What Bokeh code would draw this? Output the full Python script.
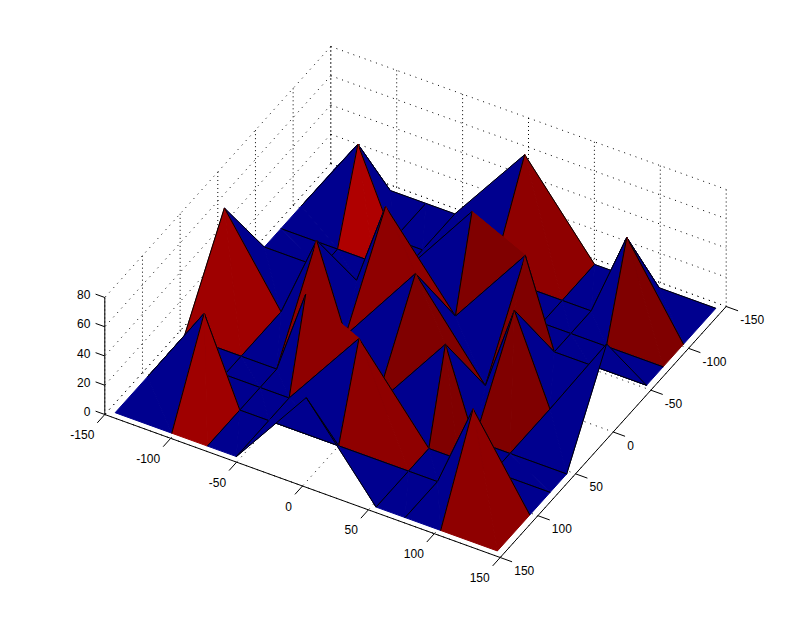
from bokeh.plotting import figure
from bokeh.models import Range1d
from bokeh.core.properties import value
from bokeh.embed import file_html
from bokeh.resources import INLINE

# Surface grid
grid_x = [-145, -102, -75, -53, 0, 53, 75, 102, 145]
grid_y = [-145, -102, -75, -53, 0, 53, 75, 102, 145]
# rows follow grid_y, columns follow grid_x
row_m145 = [0, 0, 0, 0, 57.8, 0, 0, 0, 0]
row_m102 = [0, 56.3, 0, 0, 0, 0, 0, 59.0, 0]
row_m75 = [0, 0, 0, 0, 59.0, 0, 0, 0, 0]
row_m53 = [0, 0, 0, 57.7, 0, 58.8, 0, 0, 0]
row_0 = [57.0, 0, 57.7, 0, 59.5, 0, 58.8, 0, 58.6]
row_p53 = [0, 0, 0, 58.5, 0, 58.7, 0, 0, 0]
row_p75 = [0, 0, 0, 0, 58.0, 0, 0, 0, 0]
row_p102 = [0, 57.4, 0, 0, 0, 0, 0, 58.5, 0]
row_p145 = [0, 0, 0, 0, 57.6, 0, 0, 0, 0]
grid_z = [row_m145, row_m102, row_m75, row_m53, row_0, row_p53, row_p75, row_p102, row_p145]

x_ticks = [-150, -100, -50, 0, 50, 100, 150]
y_ticks = [-150, -100, -50, 0, 50, 100, 150]
z_ticks = [0, 20, 40, 60, 80]

# Orthographic view of the 3D axes, in page pixels
CX, CY = 415.0, 360.0
AX, AY = 1.318, 0.4767
BX, BY = -0.7533, 0.8367
CZ = 1.4625
LO, HI = -150, 150
ZTOP = 80


def proj(x, y, z=0.0):
    return CX + AX * x + BX * y, CY + AY * x + BY * y - CZ * z


def jet(z, zmax):
    idx = min(int(z / zmax * 64) + 1, 64)
    v = idx / 64
    clip = lambda a: max(0.0, min(1.0, a))
    r = clip(min(4 * v - 1.5, -4 * v + 4.5))
    g = clip(min(4 * v - 0.5, -4 * v + 3.5))
    b = clip(min(4 * v + 0.5, -4 * v + 2.5))
    return "#%02x%02x%02x" % (round(r * 255), round(g * 255), round(b * 255))


p = figure(width=786, height=611, output_backend="svg", toolbar_location=None,
           x_range=Range1d(0, 786), y_range=Range1d(611, 0),
           x_axis_type=None, y_axis_type=None, min_border=0)
p.grid.visible = False
p.outline_line_color = None
p.background_fill_color = "white"
p.border_fill_color = "white"


def seg(x0, y0, z0, x1, y1, z1, dash="solid"):
    a, b = proj(x0, y0, z0), proj(x1, y1, z1)
    p.line([a[0], b[0]], [a[1], b[1]], line_color="black", line_width=1, line_dash=dash)


# Dotted grid on the floor and the two back walls
SLANT = "1 5"
UP = "1 3"
for t in x_ticks:
    seg(t, LO, 0, t, HI, 0, SLANT)
    seg(t, LO, 0, t, LO, ZTOP, UP)
for t in y_ticks:
    seg(LO, t, 0, HI, t, 0, SLANT)
    seg(LO, t, 0, LO, t, ZTOP, UP)
for t in z_ticks:
    seg(LO, LO, t, HI, LO, t, SLANT)
    seg(LO, LO, t, LO, HI, t, SLANT)

# Surface, painted far to near; each cell is split along one diagonal
zmax = max(max(r) for r in grid_z)
n = len(grid_x)
for i in range(n - 1):
    for j in range(n - 1):
        corner = lambda a, b: (grid_x[a], grid_y[b], grid_z[b][a])
        c00, c10 = corner(i, j), corner(i + 1, j)
        c11, c01 = corner(i + 1, j + 1), corner(i, j + 1)
        part_a = ([c00, c10, c11], [(c00, c10, False), (c10, c11, i == n - 2)])
        part_b = ([c00, c11, c01], [(c11, c01, j == n - 2), (c01, c00, i == 0)])
        dx = grid_x[i + 1] - grid_x[i]
        dy = grid_y[j + 1] - grid_y[j]
        # the triangle on the viewer's side of the diagonal goes last
        parts = [part_b, part_a] if dy * 0.7533 - dx * 1.318 > 0 else [part_a, part_b]
        colour = jet(grid_z[j][i], zmax)
        for tri, edges in parts:
            pts = [proj(*c) for c in tri]
            p.patch([q[0] for q in pts], [q[1] for q in pts],
                    fill_color=colour, line_color=colour, line_width=1)
            ex, ey = [], []
            for s, e, boundary in edges:
                if boundary and s[2] == 0 and e[2] == 0:
                    continue
                a, b = proj(*s), proj(*e)
                ex.append([a[0], b[0]])
                ey.append([a[1], b[1]])
            if ex:
                p.multi_line(ex, ey, line_color="black", line_width=1)

# Axis lines and ticks
seg(LO, HI, 0, HI, HI, 0)
seg(HI, HI, 0, HI, LO, 0)
seg(LO, HI, 0, LO, HI, ZTOP)
for t in x_ticks:
    seg(t, HI, 0, t, HI + 10, 0)
for t in y_ticks:
    seg(HI, t, 0, HI + 9, t, 0)
for t in z_ticks:
    seg(LO, HI, t, LO - 7, HI, t)


def labels(points, texts, align, ox, oy):
    p.text([q[0] for q in points], [q[1] for q in points], text=texts,
           text_font=value("Liberation Sans"), text_font_size="12px",
           text_color="black", text_align=align, text_baseline="middle",
           x_offset=ox, y_offset=oy)


labels([proj(t, HI) for t in x_ticks], [str(t) for t in x_ticks], "right", -10.5, 20)
labels([proj(HI, t) for t in y_ticks], [str(t) for t in y_ticks], "left", 14, 13)
labels([proj(LO, HI, t) for t in z_ticks], [str(t) for t in z_ticks], "right", -14.5, -3)

open("out.html", "w").write(file_html(p, INLINE))
